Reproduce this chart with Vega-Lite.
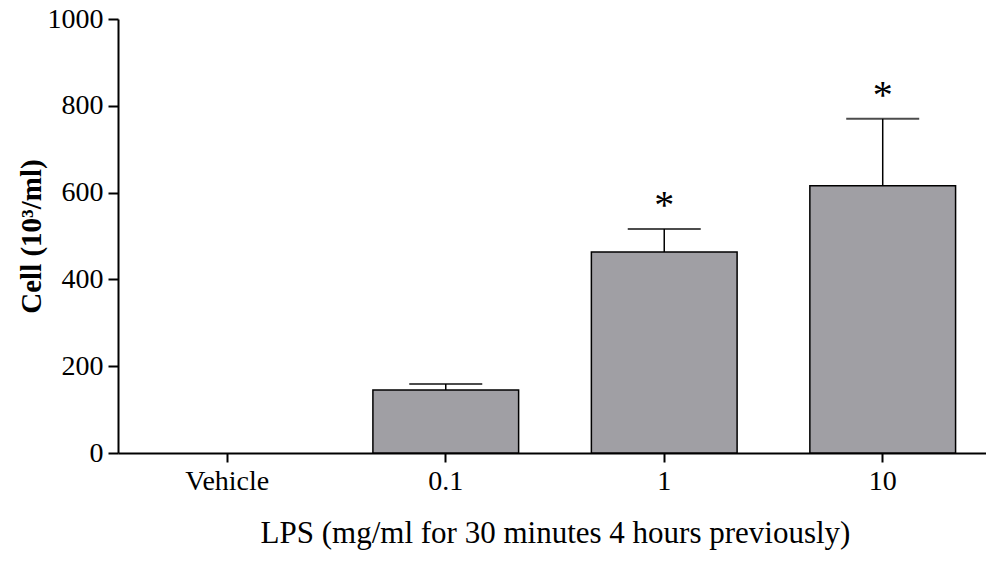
{
  "$schema": "https://vega.github.io/schema/vega-lite/v6.json",
  "width": 874,
  "height": 434,
  "autosize": {"type": "none"},
  "padding": {"left": 118, "top": 19, "right": 0, "bottom": 108},
  "background": "white",
  "config": {
    "view": {"stroke": null},
    "font": "Liberation Serif",
    "axis": {"labelFont": "Liberation Serif", "titleFont": "Liberation Serif", "domainColor": "black", "tickColor": "black", "labelColor": "black", "titleColor": "black", "grid": false}
  },
  "data": {
    "values": [
      {"dose": "Vehicle", "cell": 0, "err": 0, "sig": ""},
      {"dose": "0.1", "cell": 145, "err": 159, "sig": ""},
      {"dose": "1", "cell": 463, "err": 516, "sig": "*"},
      {"dose": "10", "cell": 616, "err": 770, "sig": "*"}
    ]
  },
  "encoding": {
    "x": {
      "field": "dose", "type": "nominal",
      "scale": {"domain": ["Vehicle", "0.1", "1", "10"], "paddingInner": 0.333, "paddingOuter": 0.1667},
      "axis": {"title": "LPS (mg/ml for 30 minutes 4 hours previously)", "labelAngle": 0, "labelFontSize": 28, "titleFontSize": 31, "titleFontWeight": "normal", "tickSize": 9, "tickWidth": 2, "domainWidth": 2, "labelPadding": 5, "titlePadding": 23}
    }
  },
  "layer": [
    {
      "transform": [{"filter": "datum.cell > 0"}],
      "mark": {"type": "bar", "color": "#a09fa4", "stroke": "black", "strokeWidth": 1.5},
      "encoding": {
        "y": {
          "field": "cell", "type": "quantitative",
          "scale": {"domain": [0, 1000], "nice": false},
          "axis": {"title": "Cell (10³/ml)", "values": [0, 200, 400, 600, 800, 1000], "format": "d", "labelFontSize": 28, "titleFontSize": 29, "titleFontWeight": "bold", "tickSize": 10, "tickWidth": 2, "domainWidth": 2, "labelPadding": 5, "titlePadding": 1}
        }
      }
    },
    {
      "transform": [{"filter": "datum.err > 0"}],
      "mark": {"type": "rule", "color": "black", "strokeWidth": 1.5},
      "encoding": {"y": {"field": "cell", "type": "quantitative"}, "y2": {"field": "err"}}
    },
    {
      "transform": [{"filter": "datum.err > 0"}],
      "mark": {"type": "tick", "color": "black", "size": 73, "thickness": 2, "orient": "horizontal"},
      "encoding": {"y": {"field": "err", "type": "quantitative"}}
    },
    {
      "transform": [{"filter": "datum.sig != ''"}],
      "mark": {"type": "text", "fontSize": 40, "baseline": "alphabetic", "dy": -11, "color": "black"},
      "encoding": {"y": {"field": "err", "type": "quantitative"}, "text": {"field": "sig"}}
    }
  ]
}
